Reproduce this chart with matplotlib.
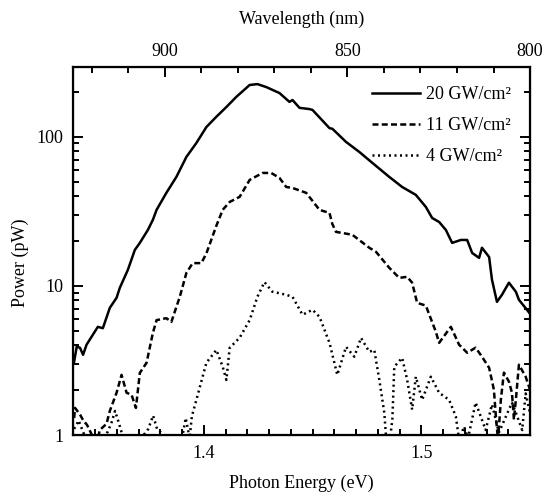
import matplotlib

matplotlib.use("Agg")
import matplotlib.pyplot as plt
import numpy as np
from matplotlib.ticker import FixedLocator, FuncFormatter, LogLocator, MultipleLocator, NullFormatter

plt.rcParams["font.family"] = ["Liberation Serif", "DejaVu Serif"]

# 20 GW/cm2
energy_20 = [1.3403, 1.3416, 1.3431, 1.3445, 1.3461, 1.3490, 1.3513, 1.3536, 1.3568, 1.3599,
             1.3614, 1.3651, 1.3683, 1.3706, 1.3743, 1.3766, 1.3783, 1.3828, 1.3874, 1.3920,
             1.3966, 1.4012, 1.4058, 1.4104, 1.4150, 1.4211, 1.4247, 1.4287, 1.4348, 1.4394,
             1.4408, 1.4440, 1.4486, 1.4500, 1.4578, 1.4591, 1.4654, 1.4715, 1.4775, 1.4853,
             1.4912, 1.4975, 1.5021, 1.5050, 1.5082, 1.5113, 1.5142, 1.5182, 1.5211, 1.5234,
             1.5266, 1.5279, 1.5312, 1.5325, 1.5348, 1.5371, 1.5403, 1.5435, 1.5449, 1.5486,
             1.5500]
power_20 = [3.05, 3.92, 3.84, 3.45, 4.03, 4.70, 5.31, 5.2, 7.12, 8.31,
            9.70, 12.8, 17.4, 19.4, 23.7, 27.7, 32.3, 42.0, 53.7, 73.1,
            90.7, 116, 136, 158, 185, 222, 225, 215, 196, 171,
            176, 156, 153, 151, 114, 113, 92.2, 79.0, 66.7, 53.7,
            46.0, 40.7, 33.8, 28.5, 26.8, 23.7, 19.4, 20.3, 20.3, 16.6,
            15.4, 18.0, 15.6, 11.0, 7.81, 8.71, 10.5, 9.12, 8.06, 6.91,
            6.5]

# 11 GW/cm2
energy_11 = [1.3404, 1.3408, 1.3431, 1.3445, 1.3463, 1.3486, 1.3509, 1.3522, 1.3553, 1.3568,
             1.3599, 1.3622, 1.3645, 1.3668, 1.3688, 1.3706, 1.3737, 1.3766, 1.3783, 1.3828,
             1.3851, 1.3890, 1.3920, 1.3949, 1.3989, 1.4012, 1.4058, 1.4087, 1.4119, 1.4165,
             1.4211, 1.4270, 1.4310, 1.4348, 1.4379, 1.4408, 1.4471, 1.4532, 1.4578, 1.4591,
             1.4608, 1.4683, 1.4761, 1.4792, 1.4853, 1.4899, 1.4935, 1.4958, 1.4981, 1.5021,
             1.5067, 1.5082, 1.5136, 1.5174, 1.5211, 1.5250, 1.5279, 1.5312, 1.5334, 1.5344,
             1.5353, 1.5366, 1.5380, 1.5403, 1.5417, 1.5426, 1.5435, 1.5449, 1.5480, 1.5500]
power_11 = [1.3, 1.52, 1.37, 1.26, 1.17, 1.0, 0.9, 1.08, 1.19, 1.45,
            1.92, 2.53, 1.92, 1.86, 1.52, 2.61, 3.05, 4.84, 5.89, 6.07,
            5.73, 8.47, 12.2, 14.2, 14.2, 16.5, 25.3, 32.3, 36.5, 39.5,
            51.3, 57.1, 57.1, 52.9, 46.0, 45.3, 42.0, 32.3, 30.8, 26.0,
            23.0, 22.0, 18.0, 16.9, 13.2, 11.3, 11.5, 10.5, 7.69, 7.37,
            4.92, 4.15, 5.31, 4.03, 3.56, 3.85, 3.35, 2.82, 2.01, 1.27,
            0.93, 1.73, 2.62, 2.28, 1.92, 1.27, 1.73, 2.96, 2.46, 2.01]

# 4 GW/cm2
energy_4 = [1.3404, 1.3425, 1.3445, 1.3465, 1.3530, 1.3575, 1.3592, 1.3610, 1.3630, 1.3700,
            1.3745, 1.3767, 1.3785, 1.3850, 1.3900, 1.3917, 1.3935, 1.3945, 1.3966, 1.4012,
            1.4058, 1.4087, 1.4104, 1.4119, 1.4165, 1.4211, 1.4247, 1.4279, 1.4315, 1.4379,
            1.4408, 1.4454, 1.4500, 1.4532, 1.4578, 1.4614, 1.4654, 1.4692, 1.4723, 1.4761,
            1.4784, 1.4807, 1.4830, 1.4839, 1.4853, 1.4867, 1.4876, 1.4912, 1.4935, 1.4958,
            1.4975, 1.5004, 1.5044, 1.5082, 1.5128, 1.5159, 1.5174, 1.5197, 1.5215, 1.5250,
            1.5296, 1.5325, 1.5357, 1.5417, 1.5435, 1.5464, 1.5480, 1.5500]
power_4 = [1.1, 1.25, 1.05, 0.9, 0.85, 1.2, 1.45, 1.2, 0.95, 0.9,
           1.1, 1.35, 1.1, 0.9, 0.95, 1.3, 0.95, 1.33, 1.72, 3.05,
           3.72, 2.87, 2.34, 3.84, 4.49, 5.89, 8.47, 10.6, 9.14, 8.71,
           8.44, 6.40, 6.91, 6.20, 4.15, 2.53, 3.90, 3.35, 4.48, 3.61,
           3.72, 2.35, 1.41, 0.93, 0.86, 1.27, 2.87, 3.29, 2.35, 1.48,
           2.46, 1.72, 2.46, 1.92, 1.72, 1.33, 0.93, 1.14, 0.95, 1.65,
           1.08, 1.60, 1.04, 1.65, 1.41, 1.08, 1.9, 1.4]

figure = plt.figure(figsize=(5.44, 4.97), dpi=100)
axis = figure.add_axes([0.1347, 0.1247, 0.8396, 0.7405])

line_kw = dict(color="black", lw=1.8)
axis.plot(energy_20, power_20, ls="-", label="20 GW/cm²", **line_kw)
axis.plot(energy_11, power_11, ls=(0, (2.4, 1.3)), label="11 GW/cm²", **line_kw)
axis.plot(energy_4, power_4, ls=(0, (0.8, 1.4)), label="4 GW/cm²", **line_kw)

axis.set_yscale("log")
axis.set_xlim(1.34, 1.55)
axis.set_ylim(1, 293)
axis.xaxis.set_major_locator(FixedLocator([1.4, 1.5]))
axis.xaxis.set_minor_locator(MultipleLocator(0.01))
axis.yaxis.set_major_locator(LogLocator(base=10))
axis.yaxis.set_minor_locator(LogLocator(base=10, subs=np.arange(2, 10)))
axis.yaxis.set_major_formatter(FuncFormatter(lambda v, _: f"{v:g}"))
axis.yaxis.set_minor_formatter(NullFormatter())
axis.tick_params(which="both", direction="in", top=False, right=True, labelsize=13, width=1.4)
axis.tick_params(which="major", length=7, pad=7)
axis.tick_params(which="minor", length=4)
axis.set_xlabel("Photon Energy (eV)", fontsize=13, labelpad=9)
axis.set_ylabel("Power (pW)", fontsize=13)
axis.yaxis.set_label_coords(-0.098, 0.467)
for spine in axis.spines.values():
    spine.set_linewidth(1.6)

top = axis.twiny()
top.set_xlim(925.1, 800)
top.xaxis.set_major_locator(FixedLocator([900, 850, 800]))
top.xaxis.set_minor_locator(MultipleLocator(10))
top.tick_params(which="both", direction="in", labelsize=13, width=1.4)
top.tick_params(which="major", length=7, pad=5)
top.tick_params(which="minor", length=4)
top.set_xlabel("Wavelength (nm)", fontsize=13, labelpad=14)

axis.legend(loc="upper right", frameon=False, fontsize=13, handlelength=2.7,
            handletextpad=0.3, labelspacing=0.78, borderaxespad=0.5,
            bbox_to_anchor=(0.993, 0.992))

figure.savefig("out.png", dpi=100)
plt.close(figure)
